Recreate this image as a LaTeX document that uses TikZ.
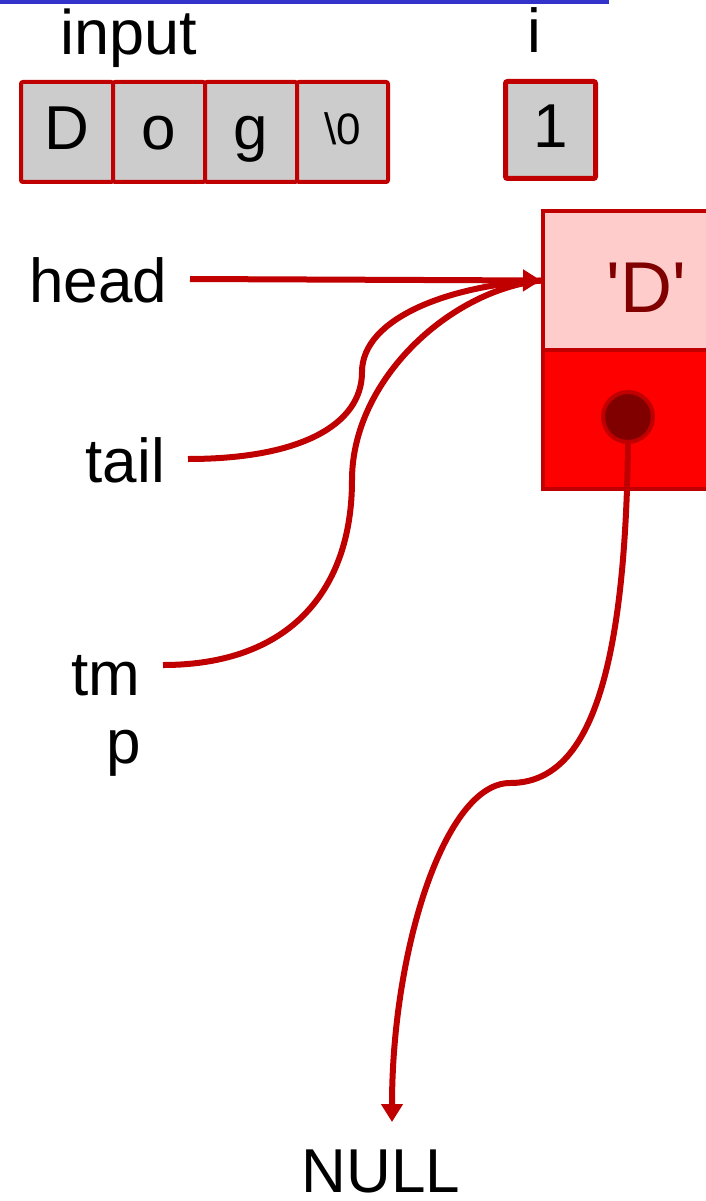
\documentclass[tikz,border=0pt]{standalone}
\usepackage{fontspec}
\setmainfont{Liberation Sans}
\newfontfamily\plainsans{Liberation Sans}
\usetikzlibrary{arrows.meta}

\definecolor{redline}{HTML}{C00000}
\definecolor{cellgray}{HTML}{CCCCCC}
\definecolor{nodepink}{HTML}{FFCCCC}
\definecolor{nodered}{HTML}{FF0000}
\definecolor{dotred}{HTML}{800000}
\definecolor{rulerblue}{HTML}{3333CC}

\tikzset{
  bigfont/.style={font=\fontsize{62}{68}\selectfont},
  lbl/.style={bigfont, text height=46pt, text depth=0pt, inner sep=0pt, outer xsep=23pt},
  cell/.style={draw=redline, fill=cellgray, line width=4pt, rounded corners=2pt,
    minimum width=92pt, minimum height=100pt, inner sep=0pt,
    text height=44pt, text depth=8pt, bigfont},
  half/.style={draw=redline, line width=4pt, minimum width=206pt, minimum height=139pt,
    inner sep=0pt, anchor=north west},
  ptrline/.style={draw=redline, line width=6pt},
  tiphead/.style={-{Triangle[length=18pt,width=21pt]}}
}

\begin{document}
\begin{tikzpicture}[x=1pt, y=-1pt]
\useasboundingbox (0,0) rectangle (705,1201);

% rule along the top
\fill[rulerblue] (0,0) rectangle (609,4);

% the char array and the counter
\node[anchor=base, inner sep=0pt, font=\fontsize{63}{68}\selectfont] (inputlbl) at (129,55) {input};
\node[cell] (c0) at (67,132) {D};
\node[cell] (c1) at (159,132) {o};
\node[cell] (c2) at (251,132) {g};
\node[cell, minimum width=91pt, font=\fontsize{44}{50}\selectfont, text depth=18pt] (c3) at (342.5,132) {\textbackslash 0};

\node[bigfont, anchor=base, inner sep=0pt] (ilbl) at (534,53) {i};
\node[cell, line width=5pt, minimum width=90pt, minimum height=97pt] (ibox) at (550.5,130) {1};

% the list node: data half and pointer half
\node[half, fill=nodepink, text=dotred, font=\plainsans\fontsize{72}{80}\selectfont, text height=63pt, text depth=0pt] (dtop) at (541,209) {'D'};
\node[half, fill=nodered] (dbot) at (541,348) {};
\node[circle, fill=dotred, draw=redline, line width=4pt, minimum size=50pt, inner sep=0pt] (dot) at (628,417) {};

% pointer variables
\node[lbl, anchor=base east] (head) at (190,302) {head};
\node[lbl, anchor=base east] (tail) at (188,482) {tail};
\node[lbl, anchor=base east] (tm) at (163,695) {tm};
\node[lbl, anchor=base east] (tmpend) at (164,763) {p};

\node[lbl, outer xsep=0pt, outer ysep=24pt, anchor=base] (null) at (381,1192) {NULL};

% connectors
\draw[ptrline, tiphead] (head.east) -- (dtop.west);
\draw[ptrline] (tail.east) .. controls (300,459) and (362,425) .. (362,372)
  .. controls (362,318) and (450,285) .. (dtop.west);
\draw[ptrline] ([yshift=7pt]tm.east) .. controls (290,665) and (352,590) .. (352,480)
  .. controls (352,380) and (450,290) .. (dtop.west);
\draw[ptrline, tiphead] (dot.south) .. controls (625,700) and (580,783) .. (510,783)
  .. controls (445,783) and (392,950) .. ([xshift=11pt]null.north);
\end{tikzpicture}
\end{document}
